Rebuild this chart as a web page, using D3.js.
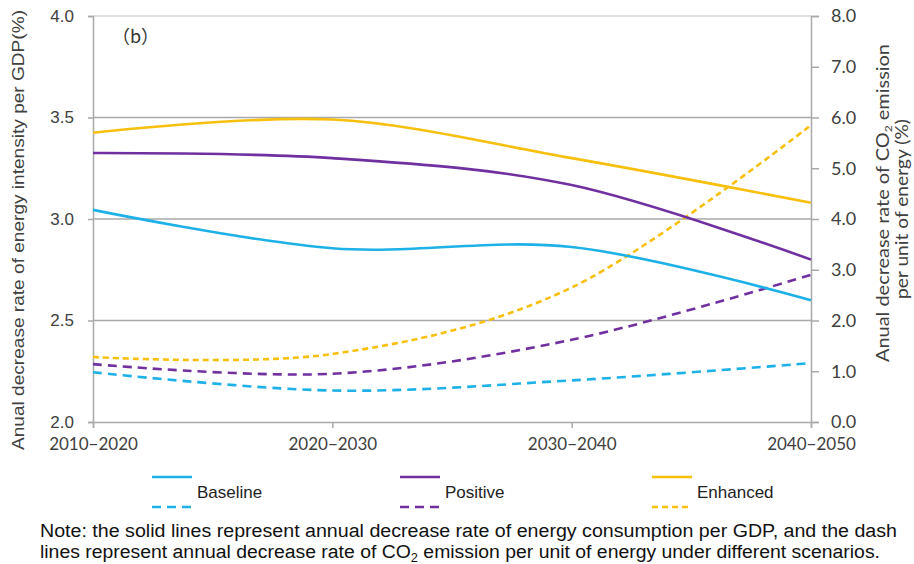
<!DOCTYPE html>
<html>
<head>
<meta charset="utf-8">
<script src="https://cdn.jsdelivr.net/npm/d3@7"></script>
<style>
  html, body { margin: 0; padding: 0; background: #fff; }
  svg { display: block; }
</style>
</head>
<body>
<svg id="chart" width="914" height="564"></svg>
<script>
// Periods on the x axis
const categories = ["2010\u22122020", "2020\u22122030", "2030\u22122040", "2040\u22122050"];

// Annual decrease rate of energy intensity per GDP (%), left axis
const baselineIntensity = [3.045, 2.856, 2.862, 2.60];
const positiveIntensity = [3.325, 3.300, 3.167, 2.80];
const enhancedIntensity = [3.425, 3.490, 3.300, 3.08];

// Annual decrease rate of CO2 emission per unit of energy (%), right axis
const baselineCO2 = [0.98, 0.62, 0.82, 1.16];
const positiveCO2 = [1.14, 0.95, 1.62, 2.90];
const enhancedCO2 = [1.28, 1.34, 2.65, 5.85];

// Axis ticks
const leftTicks = [2.0, 2.5, 3.0, 3.5, 4.0];
const rightTicks = [0, 1, 2, 3, 4, 5, 6, 7, 8];

const scenarios = ["Baseline", "Positive", "Enhanced"];
const colors = { Baseline: "#1eb1e8", Positive: "#7030a0", Enhanced: "#f7bf0e" };

const svg = d3.select("#chart");
const plotLeft = 93, plotRight = 811, plotTop = 16, plotBottom = 422;

const x = d3.scalePoint().domain(categories).range([plotLeft, plotRight]);
const yL = d3.scaleLinear().domain([2, 4]).range([plotBottom, plotTop]);
const yR = d3.scaleLinear().domain([0, 8]).range([plotBottom, plotTop]);

const gridColor = "#a9a9a9";

// Horizontal gridlines
svg.append("g").selectAll("line")
  .data(leftTicks.filter(d => d > 2))
  .join("line")
  .attr("x1", plotLeft).attr("x2", plotRight)
  .attr("y1", d => yL(d)).attr("y2", d => yL(d))
  .attr("stroke", d => d === 4 ? "#d4d4d4" : gridColor)
  .attr("stroke-width", 1.5);

// Left axis
const gL = svg.append("g").attr("transform", `translate(${plotLeft},0)`)
  .call(d3.axisLeft(yL).tickValues(leftTicks).tickFormat(d3.format(".1f")).tickSize(5).tickPadding(14));
gL.select(".domain").attr("stroke", gridColor).attr("stroke-width", 1.5);
gL.selectAll(".tick line").attr("stroke", gridColor).attr("stroke-width", 1.5);
gL.selectAll(".tick text")
  .attr("font-family", "'Liberation Sans', Arial, sans-serif")
  .attr("font-size", 17).attr("fill", "#404040");

// Right axis
const gR = svg.append("g").attr("transform", `translate(${plotRight},0)`)
  .call(d3.axisRight(yR).tickValues(rightTicks).tickFormat(d3.format(".1f")).tickSize(8).tickPadding(12));
gR.select(".domain").attr("stroke", gridColor).attr("stroke-width", 1.5);
gR.selectAll(".tick line").attr("stroke", gridColor).attr("stroke-width", 1.5);
gR.selectAll(".tick text")
  .attr("font-family", "Lato, 'Open Sans', sans-serif")
  .attr("font-size", 18).attr("fill", "#404040");

// Bottom axis
const gB = svg.append("g").attr("transform", `translate(0,${plotBottom})`)
  .call(d3.axisBottom(x).tickSize(6).tickPadding(10));
gB.select(".domain").attr("stroke", gridColor).attr("stroke-width", 1.5);
gB.selectAll(".tick line").attr("stroke", gridColor).attr("stroke-width", 1.5);
gB.selectAll(".tick text")
  .attr("font-family", "Lato, 'Open Sans', sans-serif")
  .attr("font-size", 17).attr("fill", "#404040");

// Smoothed series lines
const lineL = d3.line().x((d, i) => x(categories[i])).y(d => yL(d)).curve(d3.curveCatmullRom.alpha(0));
const lineR = d3.line().x((d, i) => x(categories[i])).y(d => yR(d)).curve(d3.curveCatmullRom.alpha(0));

const dashedSeries = [
  { name: "Baseline", values: baselineCO2, dash: "9,6" },
  { name: "Positive", values: positiveCO2, dash: "9,6" },
  { name: "Enhanced", values: enhancedCO2, dash: "6,4" }
];
const solidSeries = [
  { name: "Baseline", values: baselineIntensity },
  { name: "Positive", values: positiveIntensity },
  { name: "Enhanced", values: enhancedIntensity }
];

svg.append("g").selectAll("path")
  .data(dashedSeries)
  .join("path")
  .attr("d", d => lineR(d.values))
  .attr("fill", "none")
  .attr("stroke", d => colors[d.name])
  .attr("stroke-width", 2.6)
  .attr("stroke-dasharray", d => d.dash);

svg.append("g").selectAll("path")
  .data(solidSeries)
  .join("path")
  .attr("d", d => lineL(d.values))
  .attr("fill", "none")
  .attr("stroke", d => colors[d.name])
  .attr("stroke-width", 2.6);

// Panel label
svg.append("text")
  .attr("x", 112).attr("y", 43)
  .attr("font-family", "'Noto Sans CJK SC', sans-serif")
  .attr("font-size", 18).attr("fill", "#333")
  .text("\uFF08b\uFF09");

// Left axis title
svg.append("text")
  .attr("transform", "translate(24,230) rotate(-90)")
  .attr("text-anchor", "middle")
  .attr("font-family", "'Liberation Sans', Arial, sans-serif")
  .attr("font-size", 17).attr("fill", "#404040")
  .attr("textLength", 440).attr("lengthAdjust", "spacingAndGlyphs")
  .text("Anual decrease rate of energy intensity per GDP(%)");

// Right axis title (two lines, with subscript)
const rt = svg.append("g").attr("transform", "translate(889,203) rotate(-90)")
  .attr("font-family", "Lato, 'Open Sans', sans-serif")
  .attr("font-size", 16.5).attr("fill", "#404040");
const rt1 = rt.append("text").attr("text-anchor", "middle").attr("y", 0)
  .attr("textLength", 318).attr("lengthAdjust", "spacingAndGlyphs");
rt1.append("tspan").text("Anual decrease rate of CO");
rt1.append("tspan").attr("font-size", 10).attr("dy", 3).text("2");
rt1.append("tspan").attr("dy", -3).text(" emission");
rt.append("text").attr("text-anchor", "middle").attr("x", -6).attr("y", 19)
  .attr("textLength", 180).attr("lengthAdjust", "spacingAndGlyphs")
  .text("per unit of energy (%)");

// Legend
const legendX = { Baseline: 152, Positive: 400, Enhanced: 652 };
const lg = svg.append("g");
scenarios.forEach((s, i) => {
  const x0 = legendX[s];
  lg.append("line").attr("x1", x0).attr("x2", x0 + 40).attr("y1", 477).attr("y2", 477)
    .attr("stroke", colors[s]).attr("stroke-width", 2.6);
  lg.append("line").attr("x1", x0).attr("x2", x0 + 40).attr("y1", 507).attr("y2", 507)
    .attr("stroke", colors[s]).attr("stroke-width", 2.6)
    .attr("stroke-dasharray", dashedSeries[i].dash);
  lg.append("text").attr("x", x0 + 45).attr("y", 498)
    .attr("font-family", "'Liberation Sans Narrow', 'Liberation Sans', Arial, sans-serif")
    .attr("font-size", 17).attr("fill", "#222")
    .text(s);
});

// Note below the chart
const noteFont = "'Liberation Sans Narrow', 'Liberation Sans', Arial, sans-serif";
svg.append("text")
  .attr("x", 40).attr("y", 537)
  .attr("font-family", noteFont).attr("font-size", 18).attr("fill", "#111")
  .attr("textLength", 857).attr("lengthAdjust", "spacingAndGlyphs")
  .text("Note: the solid lines represent annual decrease rate of energy consumption per GDP, and the dash");
const n2 = svg.append("text")
  .attr("x", 40).attr("y", 558)
  .attr("font-family", noteFont).attr("font-size", 18).attr("fill", "#111")
  .attr("textLength", 840).attr("lengthAdjust", "spacingAndGlyphs");
n2.append("tspan").text("lines represent annual decrease rate of CO");
n2.append("tspan").attr("font-size", 12).attr("dy", 4).text("2");
n2.append("tspan").attr("dy", -4).text(" emission per unit of energy under different scenarios.");
</script>
</body>
</html>
